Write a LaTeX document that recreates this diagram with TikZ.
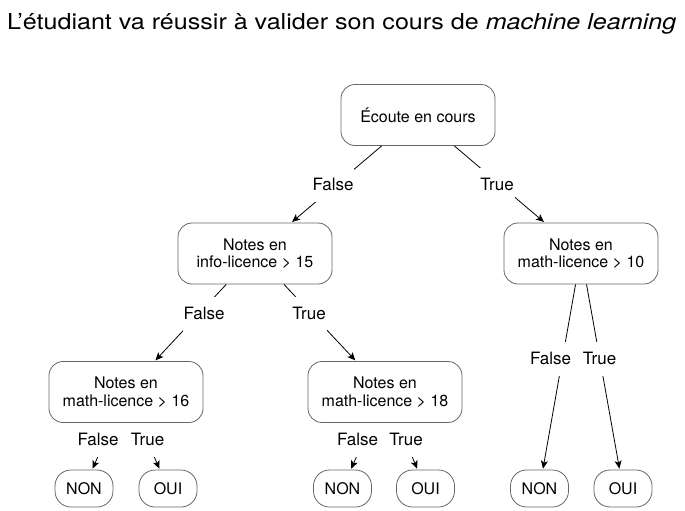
\documentclass[tikz,border=0pt]{standalone}
\usepackage{fontspec}
\setmainfont{TeX Gyre Heros}
\usetikzlibrary{arrows.meta}
\tikzset{
  box/.style={draw=black!60, line width=0.8pt, rounded corners=14pt, minimum width=154pt, minimum height=61pt, align=center, inner sep=0pt, font=\fontsize{16pt}{17.5pt}\selectfont},
  leaf/.style={draw=black!60, line width=0.8pt, rounded corners=16pt, minimum width=58pt, minimum height=37pt, inner sep=0pt, font=\fontsize{16pt}{17.5pt}\selectfont},
  lbl/.style={fill=white, inner xsep=1pt, inner ysep=0pt, minimum height=34pt, font=\fontsize{17pt}{17pt}\selectfont},
  conn/.style={draw, line width=0.8pt, -{Stealth[length=8pt,width=7pt,inset=2pt]}, shorten >=1pt}
}
\begin{document}
\begin{tikzpicture}[x=1pt,y=-1pt]
\useasboundingbox (0,0) rectangle (685,511);
\node[anchor=base west, inner sep=0pt, font=\fontsize{22pt}{24pt}\selectfont] (title) at (7,30) {\scalebox{1.14}[1]{L’étudiant va réussir à valider son cours de \textit{machine learning}}};
% decision nodes
\node[box] (root) at (418,115) {Écoute en cours};
\node[box] (n1) at (255,253.5) {Notes en\\info-licence > 15};
\node[box] (n2) at (581,253.5) {Notes en\\math-licence > 10};
\node[box] (n3) at (126,392) {Notes en\\math-licence > 16};
\node[box] (n4) at (385,392) {Notes en\\math-licence > 18};
% leaves
\node[leaf] (l1) at (84,488.5) {NON};
\node[leaf] (l2) at (168,488.5) {OUI};
\node[leaf] (l3) at (342.5,488.5) {NON};
\node[leaf] (l4) at (425.5,488.5) {OUI};
\node[leaf] (l5) at (539.5,488.5) {NON};
\node[leaf] (l6) at (623,488.5) {OUI};
% connectors
\draw[conn] (root) -- (n1);
\draw[conn] (root) -- (n2);
\draw[conn] (n1) -- (n3);
\draw[conn] (n1) -- (n4);
\draw[conn] (n2) -- (l5);
\draw[conn] (n2) -- (l6);
\draw[conn] (n3) -- (l1);
\draw[conn] (n3) -- (l2);
\draw[conn] (n4) -- (l3);
\draw[conn] (n4) -- (l4);
% labels
\node[lbl] (f1) at (333,184.5) {False};
\node[lbl] (t1) at (497,184.5) {True};
\node[lbl] (f2) at (204,313.5) {False};
\node[lbl] (t2) at (309,313.5) {True};
\node[lbl] (f3) at (550.5,358.5) {False};
\node[lbl] (t3) at (599.5,358.5) {True};
\node[lbl] (f4) at (98,439.5) {False};
\node[lbl] (t4) at (147.5,439.5) {True};
\node[lbl] (f5) at (357.5,439.5) {False};
\node[lbl] (t5) at (406,439.5) {True};
\end{tikzpicture}
\end{document}
